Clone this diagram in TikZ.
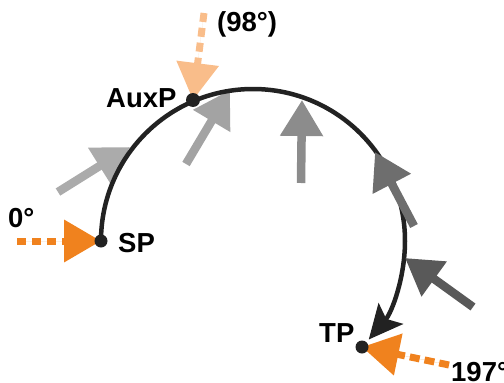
\documentclass[tikz,border=0pt]{standalone}
\usepackage{fontspec}
\setmainfont{Liberation Sans}
\usetikzlibrary{arrows.meta}
\definecolor{orangeA}{HTML}{F0821E}
\definecolor{orangeL}{HTML}{F9BD8A}
\definecolor{grayA}{HTML}{ABABAB}
\definecolor{grayB}{HTML}{A3A3A3}
\definecolor{grayC}{HTML}{8C8C8C}
\definecolor{grayD}{HTML}{6E6E6E}
\definecolor{grayE}{HTML}{595959}
\definecolor{curvecol}{HTML}{222222}
\tikzset{
  lbl/.style={font=\fontsize{27.5}{30}\selectfont\bfseries, text=black, inner sep=0pt, anchor=base west},
  dotnode/.style={circle, fill=curvecol, minimum size=13pt, inner sep=0pt},
  grayarrow/.style={line width=8.5pt, -{Triangle[length=36pt,width=41pt]}},
  dotarrow/.style={line width=7pt, dash pattern=on 9pt off 6pt, -{Triangle[length=37pt,width=41pt]}},
}
\begin{document}
\begin{tikzpicture}[x=1pt,y=-1pt]
\useasboundingbox (0,0) rectangle (504,383);
% key points
\coordinate (sp) at (101,241);
\coordinate (auxp) at (193,100);
\coordinate (tp) at (362,347);
\coordinate (spin) at (17,241);
\coordinate (auxin) at (204,13);
\coordinate (tpin) at (449,365);
% gray arrows under the curve
\coordinate (a0) at (58,192);  \coordinate (a1) at (130,147);
\coordinate (b0) at (186,164); \coordinate (b1) at (230,90);
\coordinate (c0) at (301,183); \coordinate (c1) at (302,100);
\coordinate (d0) at (414,226); \coordinate (d1) at (375,152);
\coordinate (e0) at (473,307); \coordinate (e1) at (405,258);
\draw[grayarrow, draw=grayA, fill=grayA] (a0) -- (a1);
\draw[grayarrow, draw=grayB, fill=grayB] (b0) -- (b1);
\draw[grayarrow, draw=grayC, fill=grayC] (c0) -- (c1);
% main curve
\draw[curvecol, line width=4.5pt, -{Stealth[length=34pt,width=32pt,inset=7pt]}]
  (sp) arc[start angle=180, end angle=400.4, radius=152];
% gray arrows over the curve
\draw[grayarrow, draw=grayD, fill=grayD] (d0) -- (d1);
\draw[grayarrow, draw=grayE, fill=grayE] (e0) -- (e1);
% orange input arrows
\draw[dotarrow, draw=orangeA, fill=orangeA] (spin) -- (sp);
\draw[dotarrow, draw=orangeL, fill=orangeL] (auxin) -- (auxp);
\draw[dotarrow, draw=orangeA, fill=orangeA, dash pattern=on 10pt off 5pt] (tpin) -- (tp);
% dots
\node[dotnode] (SPdot) at (sp) {};
\node[dotnode, minimum size=14pt] (AuxPdot) at (auxp) {};
\node[dotnode] (TPdot) at (tp) {};
% labels
\node[lbl] (l98) at (217,31) {(98°)};
\node[lbl] (lAux) at (106,107) {AuxP};
\node[lbl] (l0) at (8,227) {0°};
\node[lbl] (lSP) at (118,252) {SP};
\node[lbl] (lTP) at (319,342) {TP};
\node[lbl] (l197) at (451,381) {197°};
\end{tikzpicture}
\end{document}
